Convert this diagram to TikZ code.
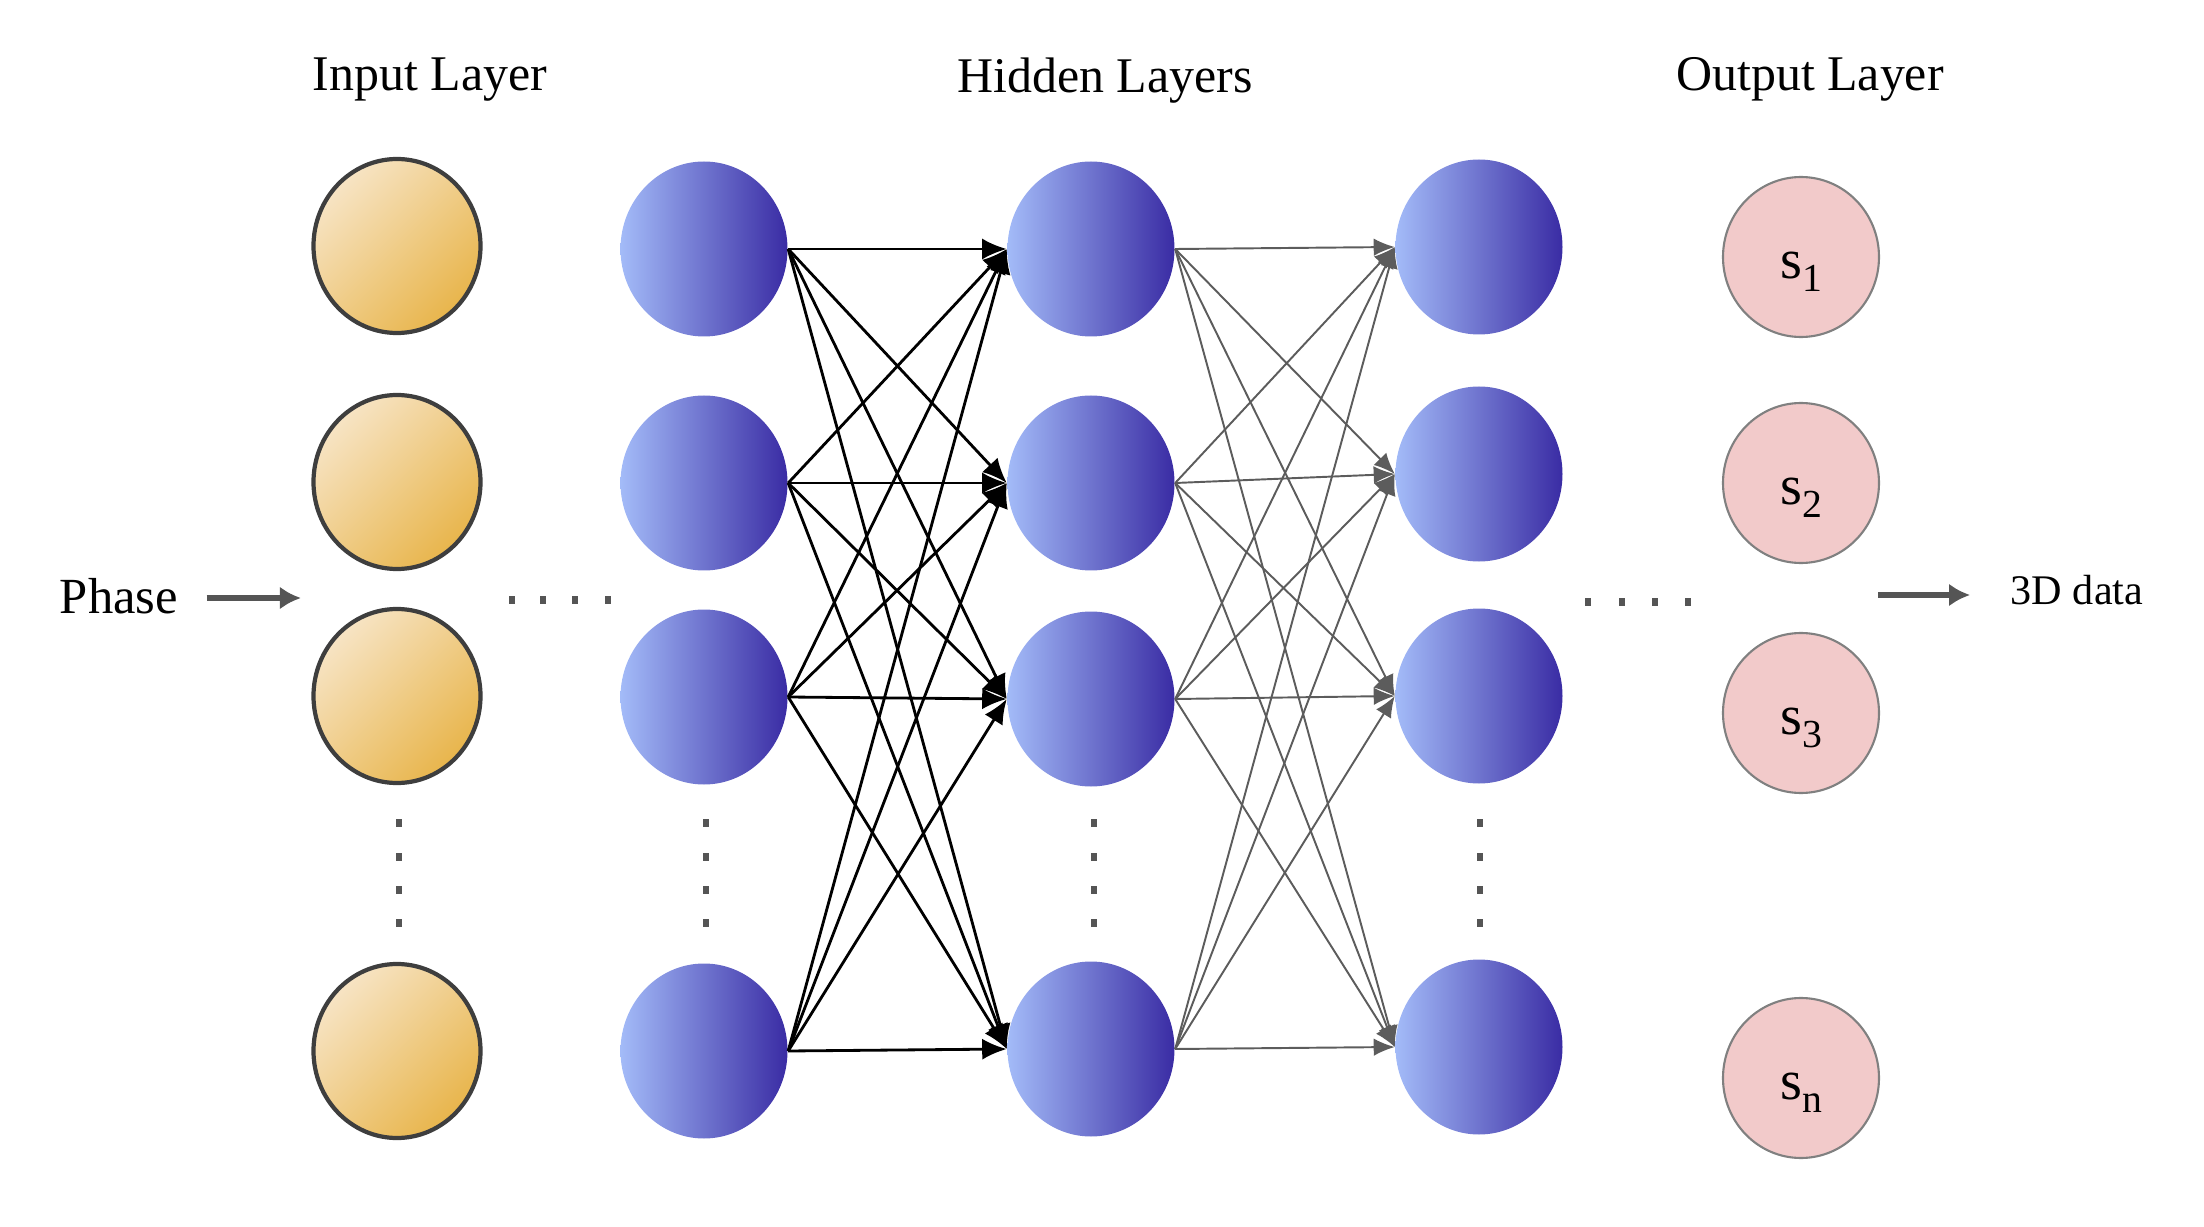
\documentclass[tikz,border=0pt]{standalone}
\usepackage{fontspec}
\setmainfont{Liberation Serif}
\usepackage{tikz}
\usetikzlibrary{shapes.geometric, arrows.meta, positioning, calc}
\definecolor{inputTop}{HTML}{F7E4C4}
\definecolor{inputBot}{HTML}{E8B54C}
\definecolor{hiddenL}{HTML}{A3BBF8}
\definecolor{hiddenM}{HTML}{8697DC}
\definecolor{hiddenR}{HTML}{3A2CA4}
\definecolor{outFill}{HTML}{F2CACA}
\definecolor{grisBorde}{HTML}{3E3E3E}
\definecolor{grisSalida}{HTML}{808080}
\definecolor{grisFlecha}{HTML}{555555}
\definecolor{grisLinea}{HTML}{5C5C5C}
\newcommand{\sidx}[2]{#1\raisebox{-3.7pt}{\fontsize{11.3}{13}\selectfont #2}}

\begin{document}
\begin{tikzpicture}[
        inp/.style={ellipse, draw=grisBorde, line width=1.2pt, top color=inputTop,
            bottom color=inputBot, shading angle=45, minimum width=1.67cm,
            minimum height=1.74cm, inner sep=0pt},
        hid/.style={ellipse, left color=hiddenL, middle color=hiddenM, right color=hiddenR,
            minimum width=1.67cm, minimum height=1.75cm, inner sep=0pt},
        outp/.style={ellipse, draw=grisSalida, line width=0.6pt, fill=outFill,
            minimum width=1.56cm, minimum height=1.60cm, inner sep=0pt,
            text height=12pt, text depth=0pt, font=\fontsize{16}{18}\selectfont},
        title/.style={font=\fontsize{14.2}{17}\selectfont, inner sep=0pt, anchor=base},
        wire/.style={-{Latex[length=7pt, width=6pt]}, black, line width=0.8pt},
        wiregray/.style={-{Latex[length=6pt, width=5pt]}, grisLinea, line width=0.55pt},
        flow/.style={-{Latex[length=6pt, width=6.5pt]}, grisFlecha, line width=1.6pt},
        dot/.style={fill=grisFlecha}
    ]
        \useasboundingbox (0,0) rectangle (22.04,-12.27);

        % titles
        \node[title] (tIn) at (4.30,-0.91) {Input Layer};
        \node[title] (tHid) at (11.05,-0.93) {Hidden Layers};
        \node[title] (tOut) at (18.10,-0.91) {Output Layer};

        % input layer
        \node[inp] (in1) at (3.97,-2.46) {};
        \node[inp] (in2) at (3.97,-4.82) {};
        \node[inp] (in3) at (3.97,-6.96) {};
        \node[inp] (in4) at (3.97,-10.51) {};

        % hidden layers
        \node[hid] (ha1) at (7.04,-2.49) {};
        \node[hid] (ha2) at (7.04,-4.83) {};
        \node[hid] (ha3) at (7.04,-6.97) {};
        \node[hid] (ha4) at (7.04,-10.51) {};
        \node[hid] (hb1) at (10.91,-2.49) {};
        \node[hid] (hb2) at (10.91,-4.83) {};
        \node[hid] (hb3) at (10.91,-6.99) {};
        \node[hid] (hb4) at (10.91,-10.49) {};
        \node[hid] (hc1) at (14.79,-2.47) {};
        \node[hid] (hc2) at (14.79,-4.74) {};
        \node[hid] (hc3) at (14.79,-6.96) {};
        \node[hid] (hc4) at (14.79,-10.47) {};

        % output layer
        \node[outp] (s1) at (18.01,-2.57) {\sidx{s}{1}};
        \node[outp] (s2) at (18.01,-4.83) {\sidx{s}{2}};
        \node[outp] (s3) at (18.01,-7.13) {\sidx{s}{3}};
        \node[outp] (s4) at (18.01,-10.78) {\sidx{s}{n}};

        % connections
        \foreach \i in {1,...,4}
            \foreach \j in {1,...,4} {
                \draw[wire] (ha\i.east) -- (hb\j.west);
                \draw[wiregray] (hb\i.east) -- (hc\j.west);
            }

        % input / output
        \node[title, font=\fontsize{14.4}{17}\selectfont] (phase) at (1.19,-6.13) {Phase};
        \coordinate (phaseTip) at (3.01,-5.98);
        \draw[flow, shorten <=0.28cm] (phaseTip -| phase.east) -- (phaseTip);
        \node[title, font=\fontsize{12}{14}\selectfont] (data) at (20.77,-6.05) {3D data};
        \coordinate (dataTail) at (18.78,-5.95);
        \draw[flow, shorten >=0.40cm] (dataTail) -- (dataTail -| data.west);

        % dots
        \foreach \x in {5.12,5.43,5.75,6.08}
            \fill[dot] (\x-0.03,-6.04) rectangle ++(0.06,0.08);
        \foreach \x in {15.88,16.22,16.55,16.88}
            \fill[dot] (\x-0.03,-6.06) rectangle ++(0.06,0.08);
        \foreach \x in {3.99,7.06,10.94,14.80}
            \foreach \y in {8.23,8.57,8.90,9.23}
                \fill[dot] (\x-0.03,-\y-0.04) rectangle ++(0.06,0.08);
    \end{tikzpicture}
\end{document}
